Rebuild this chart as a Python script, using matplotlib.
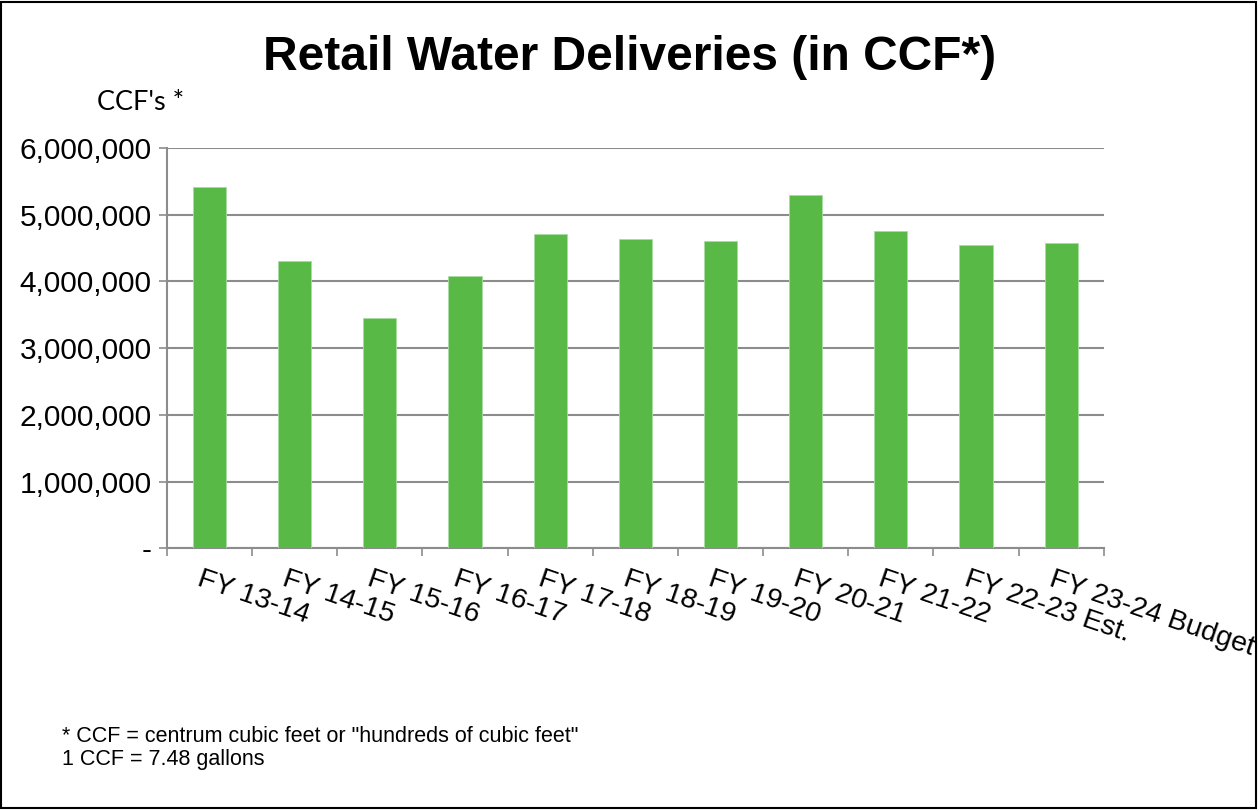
import matplotlib.pyplot as plt
import matplotlib.transforms as mtransforms
from matplotlib.patches import Rectangle
from matplotlib.ticker import FuncFormatter

# data
categories = ['FY 13-14', 'FY 14-15', 'FY 15-16', 'FY 16-17', 'FY 17-18', 'FY 18-19',
              'FY 19-20', 'FY 20-21', 'FY 21-22', 'FY 22-23 Est.', 'FY 23-24 Budget']
deliveries = [5420000, 4300000, 3455000, 4080000, 4710000, 4630000,
              4610000, 5290000, 4760000, 4550000, 4570000]
y_ticks = [0, 1000000, 2000000, 3000000, 4000000, 5000000, 6000000]

BAR_GREEN = '#58B947'
GRID_GRAY = '#8c8c8c'

plt.rcParams['font.family'] = ['Liberation Sans', 'DejaVu Sans']

fig = plt.figure(figsize=(12.6, 8.11), dpi=100)
ax = fig.add_axes([0.1325, 0.3237, 0.876 - 0.1325, 0.8175 - 0.3237])

x = list(range(len(categories)))
ax.bar(x, deliveries, width=0.39, color=BAR_GREEN, edgecolor='#a8dca0',
       linewidth=0.6, zorder=3)

ax.set_ylim(0, 6000000)
ax.set_xlim(-0.5, len(categories) - 0.5)
ax.set_yticks(y_ticks)
ax.yaxis.set_major_formatter(FuncFormatter(lambda v, p: '-' if v == 0 else f'{v:,.0f}'))
ax.yaxis.grid(True, color=GRID_GRAY, linewidth=1.5, zorder=0)
ax.tick_params(axis='y', length=6, width=1.2, color=GRID_GRAY, pad=5, labelsize=21.5)

# category ticks sit on the boundaries between bars
ax.set_xticks([i - 0.5 for i in range(len(categories) + 1)])
ax.set_xticklabels([])
ax.tick_params(axis='x', length=6, width=1.2, color=GRID_GRAY, direction='out')

for side in ['top', 'right']:
    ax.spines[side].set_visible(False)
for side in ['left', 'bottom']:
    ax.spines[side].set_color(GRID_GRAY)
    ax.spines[side].set_linewidth(1.5)

# rotated category labels
offset = mtransforms.ScaledTranslation(-7 / 100, -18 / 100, fig.dpi_scale_trans)
trans = ax.get_xaxis_transform() + offset
for i, lab in enumerate(categories):
    ax.text(i, 0, lab, transform=trans, rotation=-19, rotation_mode='anchor',
            ha='left', va='top', fontsize=20.5, clip_on=False)

fig.text(0.5, 0.929, 'Retail Water Deliveries (in CCF*)', ha='center', va='center',
         fontsize=34.5, fontweight='bold')
fig.text(0.077, 0.874, "CCF's *", ha='left', va='center', fontsize=19.5,
         family=['Lato', 'DejaVu Sans'])
fig.text(0.049, 0.078, '* CCF = centrum cubic feet or "hundreds of cubic feet"\n1 CCF = 7.48 gallons',
         ha='left', va='center', fontsize=15.5, linespacing=1.15)

fig.patches.append(Rectangle((0.0008, 0.004), 0.996, 0.994, transform=fig.transFigure,
                             fill=False, edgecolor='black', linewidth=1.5, zorder=10))

fig.savefig('out.png', dpi=100)
